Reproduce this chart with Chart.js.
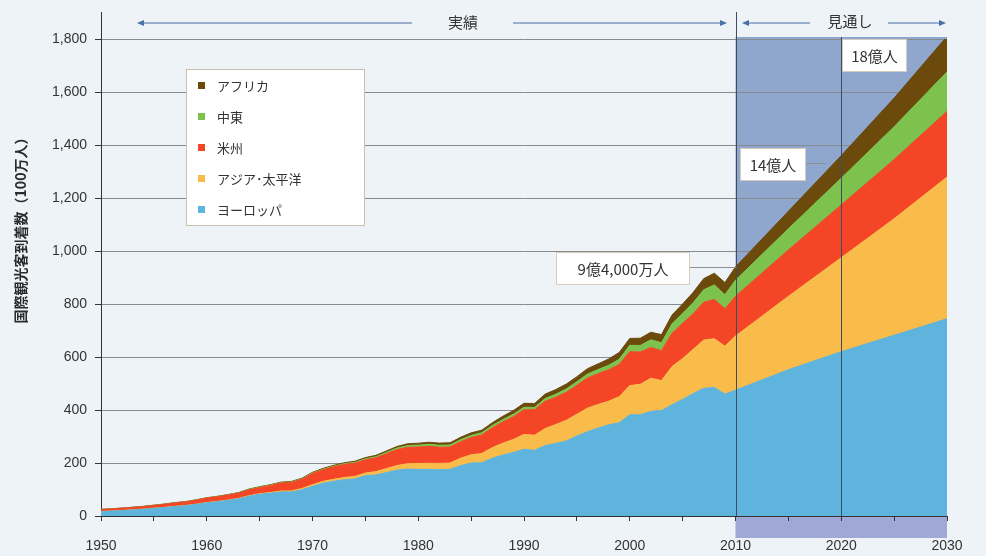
<!DOCTYPE html>
<html>
<head>
<meta charset="utf-8">
<script src="https://cdn.jsdelivr.net/npm/chart.js@4.4.1/dist/chart.umd.min.js"></script>
<style>
  html, body { margin: 0; padding: 0; background: #eef3f7; }
  canvas { display: block; }
</style>
</head>
<body>
<canvas id="chart" width="986" height="556"></canvas>
<script>
// years: yearly actuals 1950-2010, forecast points 2015-2030
const years = [
  1950, 1951, 1952, 1953, 1954, 1955, 1956, 1957, 1958, 1959,
  1960, 1961, 1962, 1963, 1964, 1965, 1966, 1967, 1968, 1969,
  1970, 1971, 1972, 1973, 1974, 1975, 1976, 1977, 1978, 1979,
  1980, 1981, 1982, 1983, 1984, 1985, 1986, 1987, 1988, 1989,
  1990, 1991, 1992, 1993, 1994, 1995, 1996, 1997, 1998, 1999,
  2000, 2001, 2002, 2003, 2004, 2005, 2006, 2007, 2008, 2009,
  2010, 2015, 2020, 2025, 2030
];

// 100万人
const europe = [
  16.8, 18.5, 20.5, 23, 25.5, 29, 32, 36, 39, 44,
  50, 54, 59, 65, 75, 82, 86, 91, 91, 99,
  112, 124, 131, 137, 140, 152, 155, 164, 173, 177,
  176, 176, 175, 176, 190, 200, 201, 218, 230, 240,
  252, 248, 266, 274, 283, 302, 318, 332, 344, 352,
  382, 382, 395, 398, 420, 440, 462, 482, 485, 460,
  475, 552, 620, 682, 744
];
const asiaPacific = [
  0.2, 0.25, 0.3, 0.35, 0.4, 0.5, 0.55, 0.6, 0.7, 0.8,
  0.9, 1.1, 1.3, 1.5, 1.8, 2.1, 2.6, 3.3, 3.8, 4.8,
  6.2, 6.8, 7.5, 8.5, 9.3, 10.2, 12.5, 15, 17.5, 20.5,
  22, 23, 23.5, 24, 28, 31, 35, 40, 45, 49,
  56, 57, 64, 71, 78, 82, 89, 89, 89, 98,
  110, 115, 125, 113, 144, 154, 167, 182, 184, 181,
  204, 277, 355, 440, 535
];
const americas = [
  7.5, 8, 8.5, 9, 9.6, 10.5, 11.5, 12.8, 13.5, 15,
  16.7, 17.5, 18.5, 19.5, 22, 23.2, 26, 30, 32, 35,
  42.3, 44, 47, 49, 50, 50, 52, 56, 60, 62,
  62.3, 64, 61, 60, 62, 65, 70, 75, 80, 86,
  93, 96, 103, 103, 106, 109, 114, 116, 119, 122,
  128, 122, 116, 113, 126, 133, 135, 143, 148, 141,
  150, 175, 199, 223, 248
];
const middleEast = [
  0.2, 0.2, 0.25, 0.3, 0.3, 0.35, 0.4, 0.4, 0.5, 0.5,
  0.6, 0.8, 1, 1.3, 1.6, 2, 2, 1.8, 1.8, 1.9,
  1.9, 2.2, 2.5, 2.8, 3.2, 3.6, 4.2, 5, 5.8, 6.5,
  7.1, 7.5, 7.6, 7.8, 8, 8.1, 8.3, 8.5, 8.8, 9.2,
  9.6, 8.5, 10.5, 11.5, 12.5, 13.7, 14.5, 15.5, 16.5, 19.5,
  24, 24.5, 29, 30, 35.5, 38, 41, 47, 55, 53,
  61, 80, 101, 124, 149
];
const africa = [
  0.5, 0.52, 0.55, 0.58, 0.6, 0.65, 0.68, 0.7, 0.74, 0.77,
  0.8, 0.9, 1, 1.1, 1.25, 1.4, 1.6, 1.7, 1.9, 2.1,
  2.4, 2.8, 3.2, 3.7, 4.2, 4.7, 5.2, 5.7, 6.2, 6.8,
  7.2, 7.8, 8, 8.5, 9, 9.7, 9.5, 10.5, 12.5, 13.8,
  14.8, 15, 16.5, 17.5, 18.5, 18.9, 20.5, 21.5, 24, 25.5,
  26, 27.5, 28.5, 30.5, 33, 35.4, 39, 42, 44, 46,
  50, 66, 85, 108, 134
];

const yTicks = [0, 200, 400, 600, 800, 1000, 1200, 1400, 1600, 1800];
const xTickMarks = [1950, 1955, 1960, 1965, 1970, 1975, 1980, 1985, 1990, 1995,
                    2000, 2005, 2010, 2015, 2020, 2025, 2030];
const xTickLabels = [1950, 1960, 1970, 1980, 1990, 2000, 2010, 2020, 2030];

const seriesNames = ['ヨーロッパ', 'アジア･太平洋', '米州', '中東', 'アフリカ'];
const seriesValues = [europe, asiaPacific, americas, middleEast, africa];
const seriesColors = ['#5eb4dd', '#f9bc4a', '#f44627', '#7cc24c', '#6b4a0c'];

const FONT = '"Liberation Sans", "Noto Sans CJK JP", sans-serif';
const JFONT = '"Noto Sans CJK JP", sans-serif';

function arrow(ctx, x1, x2, y) {
  const dir = x2 > x1 ? 1 : -1;
  ctx.beginPath();
  ctx.moveTo(x1, y);
  ctx.lineTo(x2 - dir * 5, y);
  ctx.stroke();
  ctx.beginPath();
  ctx.moveTo(x2, y);
  ctx.lineTo(x2 - dir * 7, y - 3);
  ctx.lineTo(x2 - dir * 7, y + 3);
  ctx.closePath();
  ctx.fill();
}

function labelBox(ctx, x, y, w, h, text) {
  ctx.fillStyle = '#ffffff';
  ctx.fillRect(x, y, w, h);
  ctx.strokeStyle = '#d6cbbf';
  ctx.lineWidth = 1;
  ctx.strokeRect(x + 0.5, y + 0.5, w - 1, h - 1);
  ctx.fillStyle = '#333333';
  ctx.font = '15px ' + JFONT;
  ctx.textAlign = 'center';
  ctx.textBaseline = 'middle';
  ctx.fillText(text, x + w / 2, y + h / 2 + 1);
}

const decor = {
  id: 'decor',
  beforeDraw(chart) {
    const { ctx, chartArea: a, scales: { x, y } } = chart;
    ctx.save();
    ctx.fillStyle = '#eef3f7';
    ctx.fillRect(0, 0, chart.width, chart.height);
    // forecast period shading
    const x0 = x.getPixelForValue(2010), x1 = x.getPixelForValue(2030);
    const top = y.getPixelForValue(1800) - 2;
    ctx.fillStyle = '#8fa6cd';
    ctx.fillRect(x0, top, x1 - x0, a.bottom - top);
    ctx.fillStyle = '#a0a8d6';
    ctx.fillRect(x0, a.bottom, x1 - x0, 22);
    ctx.restore();
  },
  afterDatasetsDraw(chart) {
    const { ctx, chartArea: a, scales: { x, y } } = chart;
    ctx.save();

    // y axis line extends above the plot
    ctx.strokeStyle = '#333';
    ctx.lineWidth = 1;
    ctx.beginPath();
    ctx.moveTo(a.left + 0.5, 12);
    ctx.lineTo(a.left + 0.5, a.top);
    ctx.stroke();

    // 2010 / 2020 divider lines
    const x2010 = Math.round(x.getPixelForValue(2010)) + 0.5;
    const x2020 = Math.round(x.getPixelForValue(2020)) + 0.5;
    ctx.strokeStyle = '#3b4c63';
    ctx.beginPath();
    ctx.moveTo(x2010, 12);
    ctx.lineTo(x2010, a.bottom);
    ctx.moveTo(x2020, y.getPixelForValue(1800) - 2);
    ctx.lineTo(x2020, a.bottom);
    ctx.stroke();

    // period arrows and labels
    ctx.strokeStyle = '#4a6fa5';
    ctx.fillStyle = '#4a6fa5';
    ctx.lineWidth = 1.2;
    arrow(ctx, 412, 137, 23);
    arrow(ctx, 513, 727, 23);
    arrow(ctx, 810, 742, 23);
    arrow(ctx, 888, 946, 23);
    ctx.fillStyle = '#333';
    ctx.font = '15px ' + JFONT;
    ctx.textAlign = 'center';
    ctx.textBaseline = 'middle';
    ctx.fillText('実績', 463, 22);
    ctx.fillText('見通し', 850, 21);

    // legend
    ctx.fillStyle = '#ffffff';
    ctx.fillRect(186, 69, 179, 157);
    ctx.strokeStyle = '#cbbfb0';
    ctx.lineWidth = 1;
    ctx.strokeRect(186.5, 69.5, 178, 156);
    ctx.font = '13px ' + JFONT;
    ctx.textAlign = 'left';
    const ds = chart.data.datasets;
    for (let k = 0; k < ds.length; k++) {
      const d = ds[ds.length - 1 - k];
      const cy = 86 + k * 31;
      ctx.fillStyle = d.backgroundColor;
      ctx.fillRect(198, cy - 4, 7, 7);
      ctx.fillStyle = '#333';
      ctx.fillText(d.label, 217, cy);
    }

    // value call-outs
    const y940 = Math.round(y.getPixelForValue(940)) + 0.5;
    ctx.strokeStyle = '#8c9096';
    ctx.beginPath();
    ctx.moveTo(690, y940);
    ctx.lineTo(x2010, y940);
    ctx.moveTo(806, 163.5);
    ctx.lineTo(826, 163.5);
    ctx.stroke();
    labelBox(ctx, 556, 252, 134, 33, '9億4,000万人');
    labelBox(ctx, 740, 148, 66, 33, '14億人');
    labelBox(ctx, 842, 39, 65, 33, '18億人');

    // y axis title
    ctx.translate(21, 227);
    ctx.rotate(-Math.PI / 2);
    ctx.fillStyle = '#2b2b2b';
    ctx.font = 'bold 14px ' + JFONT;
    ctx.textAlign = 'center';
    ctx.textBaseline = 'middle';
    ctx.fillText('国際観光客到着数（100万人）', 0, 0);
    ctx.restore();
  }
};

new Chart(document.getElementById('chart'), {
  type: 'line',
  data: {
    datasets: seriesNames.map((name, s) => ({
      label: name,
      data: years.map((yr, i) => ({ x: yr, y: seriesValues[s][i] })),
      backgroundColor: seriesColors[s],
      borderColor: seriesColors[s],
      borderWidth: 1,
      pointRadius: 0,
      tension: 0,
      fill: s === 0 ? 'origin' : '-1'
    }))
  },
  options: {
    responsive: false,
    animation: false,
    devicePixelRatio: 1,
    layout: { padding: { top: 39, right: 39, left: 0, bottom: 0 } },
    plugins: {
      legend: { display: false },
      tooltip: { enabled: false }
    },
    scales: {
      x: {
        type: 'linear',
        min: 1950,
        max: 2030,
        afterBuildTicks: scale => { scale.ticks = xTickMarks.map(v => ({ value: v })); },
        afterFit: scale => { scale.height = 40; },
        ticks: {
          autoSkip: false,
          maxRotation: 0,
          padding: 17,
          color: '#333',
          font: { family: FONT, size: 14 },
          callback: v => xTickLabels.includes(v) ? String(v) : ''
        },
        grid: { drawOnChartArea: false, drawTicks: true, tickLength: 5, tickColor: '#333' },
        border: { color: '#333', width: 1, z: 1 }
      },
      y: {
        stacked: true,
        min: 0,
        max: 1800,
        afterBuildTicks: scale => { scale.ticks = yTicks.map(v => ({ value: v })); },
        afterFit: scale => { scale.width = 101; },
        ticks: {
          padding: 8,
          color: '#333',
          font: { family: FONT, size: 14 },
          callback: v => v.toLocaleString('en-US')
        },
        grid: {
          color: ctx => ctx.tick && ctx.tick.value === 0 ? 'rgba(0,0,0,0)' : '#868b92',
          tickLength: 6,
          tickColor: '#333'
        },
        border: { color: '#333', width: 1 }
      }
    }
  },
  plugins: [decor]
});
</script>
</body>
</html>
